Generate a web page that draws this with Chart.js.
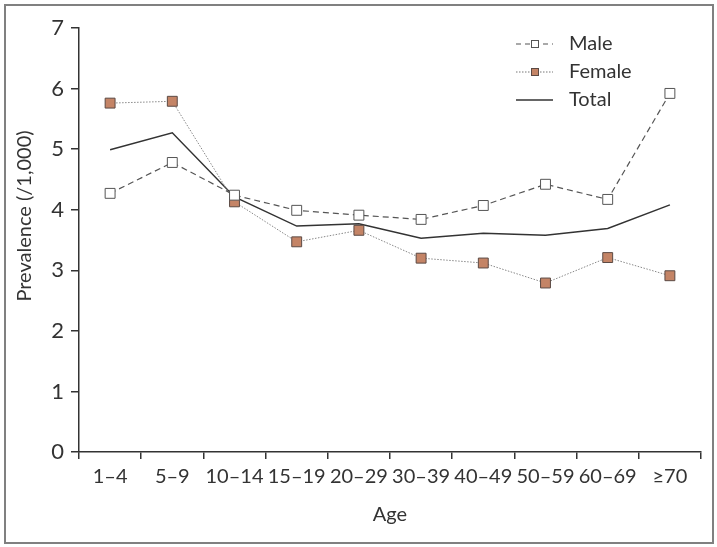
<!DOCTYPE html>
<html>
<head>
<meta charset="utf-8">
<script src="https://cdn.jsdelivr.net/npm/chart.js@4"></script>
<style>
  html, body { margin: 0; padding: 0; background: #fff; }
  #wrap { position: relative; width: 717px; height: 547px; }
  #frame { position: absolute; left: 4px; top: 4px; width: 706px; height: 536px; border: 2px solid #808080; box-sizing: content-box; pointer-events: none; }
</style>
</head>
<body>
<div id="wrap">
  <canvas id="chart" width="717" height="547"></canvas>
  <div id="frame"></div>
</div>
<script>
const ageGroups = ['1\u20134', '5\u20139', '10\u201314', '15\u201319', '20\u201329', '30\u201339', '40\u201349', '50\u201359', '60\u201369', '\u226570'];
const maleValues = [4.27, 4.78, 4.24, 3.99, 3.91, 3.84, 4.07, 4.42, 4.17, 5.92];
const femaleValues = [5.76, 5.79, 4.13, 3.47, 3.66, 3.20, 3.12, 2.79, 3.21, 2.91];
const totalValues = [4.99, 5.27, 4.21, 3.73, 3.77, 3.53, 3.61, 3.58, 3.69, 4.08];
const yTicks = [0, 1, 2, 3, 4, 5, 6, 7];

const fontFamily = 'Lato, "Open Sans", sans-serif';
const textColor = '#333';
const femaleFill = '#c48466';
const femaleBorder = '#5b4a44';

// legend drawn by hand: line sample with marker, then label
const legendItems = [
  { label: 'Male', dash: [5, 4], color: '#555', width: 1.2, marker: '#fff', markerBorder: '#555', y: 44 },
  { label: 'Female', dash: [1.5, 1.5], color: '#777', width: 1, marker: femaleFill, markerBorder: femaleBorder, y: 72 },
  { label: 'Total', dash: [], color: '#333', width: 1.5, marker: null, y: 100 }
];

const labelsPlugin = {
  id: 'customLabels',
  afterDraw(chart) {
    const ctx = chart.ctx;
    ctx.save();
    legendItems.forEach(item => {
      ctx.beginPath();
      ctx.setLineDash(item.dash);
      ctx.strokeStyle = item.color;
      ctx.lineWidth = item.width;
      ctx.moveTo(516, item.y);
      ctx.lineTo(553, item.y);
      ctx.stroke();
      ctx.setLineDash([]);
      if (item.marker) {
        ctx.fillStyle = item.marker;
        ctx.strokeStyle = item.markerBorder;
        ctx.lineWidth = 1;
        ctx.fillRect(531, item.y - 4, 8, 8);
        ctx.strokeRect(531.5, item.y - 3.5, 7, 7);
      }
      ctx.fillStyle = textColor;
      ctx.font = '20px ' + fontFamily;
      ctx.textBaseline = 'middle';
      ctx.textAlign = 'left';
      ctx.fillText(item.label, 569, item.y);
    });
    // axis titles
    ctx.font = '20px ' + fontFamily;
    ctx.textAlign = 'center';
    ctx.textBaseline = 'middle';
    ctx.fillText('Age', 390, 515);
    ctx.translate(25, 216);
    ctx.rotate(-Math.PI / 2);
    ctx.fillText('Prevalence (/1,000)', 0, 0);
    ctx.restore();
  }
};

new Chart(document.getElementById('chart'), {
  type: 'line',
  data: {
    labels: ageGroups,
    datasets: [
      {
        label: 'Male',
        data: maleValues,
        borderColor: '#555',
        borderWidth: 1.2,
        borderDash: [6, 4],
        pointStyle: 'rect',
        pointRadius: 7,
        pointBackgroundColor: '#fff',
        pointBorderColor: '#555',
        pointBorderWidth: 1,
        tension: 0
      },
      {
        label: 'Female',
        data: femaleValues,
        borderColor: '#888',
        borderWidth: 1,
        borderDash: [1.5, 1.5],
        pointStyle: 'rect',
        pointRadius: 7,
        pointBackgroundColor: femaleFill,
        pointBorderColor: femaleBorder,
        pointBorderWidth: 1,
        tension: 0
      },
      {
        label: 'Total',
        data: totalValues,
        borderColor: '#333',
        borderWidth: 1.5,
        pointRadius: 0,
        tension: 0
      }
    ]
  },
  options: {
    responsive: false,
    animation: false,
    layout: { padding: { top: 28, right: 16, left: 0, bottom: 0 } },
    plugins: {
      legend: { display: false },
      tooltip: { enabled: false }
    },
    scales: {
      x: {
        type: 'category',
        offset: true,
        grid: { display: true, offset: true, drawOnChartArea: false, drawTicks: true, tickLength: 7, color: '#333', lineWidth: 1.5 },
        border: { display: true, color: '#333', width: 1.5 },
        ticks: { color: textColor, font: { family: fontFamily, size: 20 }, padding: 6, maxRotation: 0, autoSkip: false },
        afterFit(scale) { scale.height = 95; }
      },
      y: {
        min: 0,
        max: 7,
        afterBuildTicks(scale) { scale.ticks = yTicks.map(v => ({ value: v })); },
        grid: { display: true, drawOnChartArea: false, drawTicks: true, tickLength: 8, color: '#333', lineWidth: 1.5 },
        border: { display: true, color: '#333', width: 1.5 },
        ticks: { color: textColor, font: { family: fontFamily, size: 22 }, padding: 7 },
        afterFit(scale) { scale.width = 79; }
      }
    }
  },
  plugins: [labelsPlugin]
});
</script>
</body>
</html>
